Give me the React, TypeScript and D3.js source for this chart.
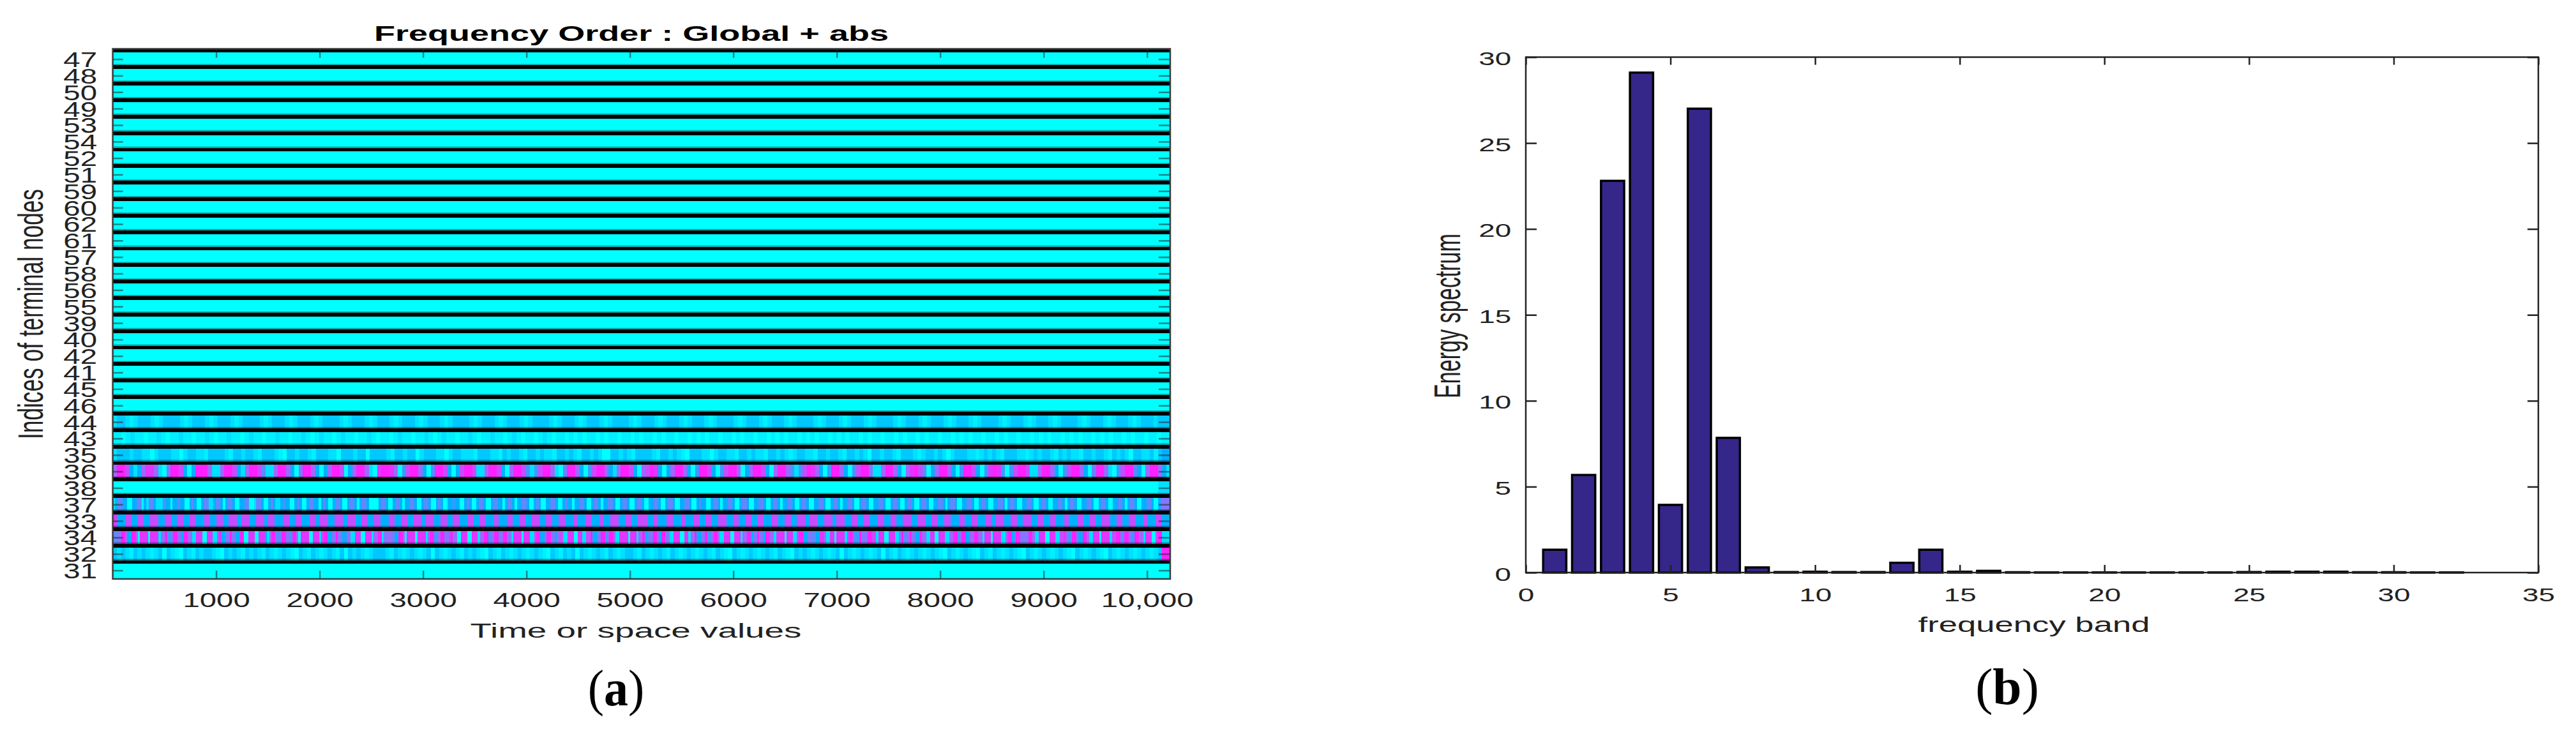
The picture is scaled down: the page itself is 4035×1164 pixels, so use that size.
import React, { useEffect, useRef } from 'react';
import * as d3 from 'd3';

// left panel: node order top to bottom
const nodeLabels = ['47', '48', '50', '49', '53', '54', '52', '51', '59', '60', '62', '61', '57', '58', '56', '55',
  '39', '40', '42', '41', '45', '46', '44', '43', '35', '36', '38', '37', '33', '34', '32', '31'];
const timeTicks = [1000, 2000, 3000, 4000, 5000, 6000, 7000, 8000, 9000, 10000];

// colour levels read along each row, one character per cell (a = 0.5, b = 1.5)
const row44 = `
  1bb1a1b bb1a1b bbb1a1b bb1a1b bb1a1b bbb1a1b bb1a1b bb1a1b bbb1a1b bb1a1
  bbb1a1b bb1a1b bb1a1b bbb1a1b bb1a1b bb1a1b bbb1a1b bb1a1b bb1a1b bbb1a1
  bbb1a1b bb1a1b bb1a1b bbb1a1b bb1a1b bb1a1b bbb1a1b bb1a1b bb1a1b bbb1a1
  bbb1a1b bb1a1b bb1a1b bbb1a1b bb1a1b bb1a1b bbb1a1b bb1a1b bb1a1b bb1bbb`;
const row43 = `
  aa0a1aa 0aa1a0 aa1aa0a a1a0aa 1aa0a1 aa0aa1a a0aa1a 0a1aa0 a1aa0a a1a0
  aa0a1aa 0aa1a0 a1aa0a a1a0aa 1aa0a1 a0aa0a1 a0aa0a 0a0aa0 a0aa0a a0a0
  aa0a0aa 0aa0a0 a0aa0a a0a0aa 0aa0a0 a0aa0a0 a0aa0a 0a0aa0 a0aa0a a0a0
  aa0a0aa 0aa0a0 a0aa0a a0a0aa 0aa0a0 a0aa0a0 a0aa0a 0a0aa0 a0aa0a a0aa`;
const row35 = `
  1bbb1bb1101bbb1101bb11abbbb1abb1bb1abbb1a0bb1bb1abbb110bbb1bb0bb
  bb1abb1bb01bbb1101bb111abbb11ab1bb1abb1b11abb1b1abb1b100bb1b1abb
  bb1abb1b1a0bbb1101bb11abb1b11abb1b1a1bb11abb1bb1abb1b10bb1bb1abb
  b1a1bb1b101bbb11a1b1b1abbb11a1b1bb1ab1b11abb1bb1ab1b10bb11bab22`;
const row36 = `
  6997212688610599720299961169972169974116996205996202699702699610
  8998603799620399720279971169972069973137996104996203799621699720
  6798202699620399720379960269972069963137986203996203799511699620
  6897402699620399720389830379971169962037996204996103799420699621`;
const row38 = `${'0'.repeat(253)}111`;
const row37 = `
  1 2 44 22 00 22 44 0 2 1 44 2 11 1 3 22 0 22 4 22 00 2 4 2 00 2 44 1 1 2 44 2 0 2 44 2 00 22 44 00 1 44 2 00 2 4 2 11 2 4 22 00 2 4 2 00 2 44 22 0 2 4 2 00 2 44 2 00 2 44 2 0 2 44 2 00
  00 2 44 2 00 2 44 2 0 22 44 2 00 2 44 2 00 2 4 2 00 22 4 22 00 2 4 2 00 2 44 2 00 2 44 22 0 2 44 2 0 22 44 2 00 2 4 2 00 22 44 2 00 2 4 22 0 22 44 2 00 2 44 2 0 22 44 2 00 2 44 2 00 2 44
  2 00 22 44 2 00 2 44 2 00 22 44 2 00 2 4 22 00 2 44 2 0 22 44 2 00 2 44 2 00 22 44 2 00 2 44 2 0 22 44 2 00 2 44 2 00 22 44 2 00 2 44 2 0 22 44 2 00 2 44 2 00 22 44 2 00 2 44 2 00 2 44
  2 00 2 44 2 00 22 44 2 0 2 44 2 00 22 44 2 00 2 44 2 00 22 44 2 0 2 44 2 00 22 44 2 00 2 44 2 00 22 44 2 0 2 44 2 00 22 44 2 00 2 44 2 00 22 44 2 0 2 44 2 00 22 44 2 00 2 5555`;
const row33 = `
  88 2222 777 222 777 222 7777 222 777 222 777 222 777 2222 777 222 777 222 7777 22 7777 222 7777 22 777 2222 777 222 777 2222 777 22 7777 222 7777 22 7777 222 777 222 7
  77 2222 777 222 777 222 7777 22 7777 222 777 222 777 2222 777 222 777 2222 77 2222 777 222 777 222 7777 222 777 222 777 2222 77 2222 777 2222 77 222 7777 222 777 222 77
  777 222 77 2222 777 2222 77 2222 777 222 777 222 7777 222 777 222 777 222 777 2222 777 222 777 222 7777 22 7777 222 7777 22 7777 222 777 222 777 2222 777 222 777 222 77
  77 222 7777 222 777 222 777 2222 777 222 777 2222 777 22 7777 222 777 222 7777 222 777 222 777 2222 77 2222 777 222 777 222 7777 222 777 222 777 2222 77 2222 777 2222`;
const row34 = `
  44 55 99 6 22 99 6 0 8888 0 8888 1 55 9 33 5 99 55 2 99 66 11 888 00 888 11 7 9 22 55 9 55 22 99 00 888 00 888 2 1 6 99 444 99 55 3 99 6 0 8888 00 888 1 7 99 22 55 9 55 22 66 11 888 00 888 1 66 9
  9 1 55 66 5 22 99 6 0 8888 0 8888 1 6 99 33 6 99 55 7 9 66 00 888 00 888 1 66 99 2 55 99 3 6 99 55 1 8888 0 888 11 7 99 22 5 99 55 2 6 77 11 888 00 88 11 77 9 22 55 99 3 6 99 6 11 8888 0 888 1 66 9
  2 3 55 99 5 2 99 55 11 888 00 88 1 66 9 22 55 9 33 6 99 6 11 888 00 888 1 66 99 2 55 9 55 2 99 66 1 8888 0 888 11 7 99 22 55 44 22 88 6 11 88 0 8888 1 7 99 333 9 555 99 77 1 888 00 888 11 5 9
  4 4 6 9 55 22 9 66 11 88 00 888 11 66 99 3 5 99 22 66 99 66 1 888 0 8888 11 6 99 2 3 99 55 55 99 6 11 888 00 888 11 77 8 6 33 99 5 22 99 6 11 888 0 8888 1 77 99 5 3 99 55 2 99 66 1 888 00 7 99 1111`;
const row32 = `
  b1b1ab1b1a1b0b1a0b1ab1bb1a0b1b1ab1b1ab1a1b1a0b1ab1a1b1ab0b1b1a1b
  bb1ab1a1b1a1b0b1a1b1ab1b1a0b1ab1a1b1a1b1a0b1ab1b0b1a1b1ab1a1bb1a
  b1a1b1ab1a1b1a1b1ab1a0b1a1b1a1b1ab1a0b1b1a1b1a1b0b1a1b1a1b0b1ab1
  a1b1a1b1a0b1a1b1a0b1ab1a1b1a0b1a1b1a1b1a0b1a1b1a0b1a1b1a1b1a1b99`;

const stripedRows: Record<string, string> = {
  '44': row44, '43': row43, '35': row35, '36': row36, '38': row38,
  '37': row37, '33': row33, '34': row34, '32': row32,
};

// right panel: energy per frequency band
const bands = d3.range(1, 35);
const energy = [1.33, 5.68, 22.8, 29.1, 3.94, 27.0, 7.84, 0.3, 0.03, 0.05, 0.03, 0.03, 0.57, 1.33, 0.05, 0.1, 0.02,
  0.01, 0.01, 0.01, 0.01, 0.01, 0.01, 0.01, 0.03, 0.05, 0.05, 0.05, 0.02, 0.02, 0.01, 0.01, 0, 0];
const bandTicks = [0, 5, 10, 15, 20, 25, 30, 35];
const energyTicks = [0, 5, 10, 15, 20, 25, 30];

const levelColor = d3.scaleLinear<string>()
  .domain([0, 1, 2, 3, 4, 5, 6, 7, 8, 9])
  .range(['#00ffff', '#00e0ff', '#00b0ff', '#4098ff', '#6088ff', '#8078ff', '#a068ff', '#c84cff', '#e036ff', '#ff20ff']);

const halfLevels: Record<string, number> = { a: 0.5, b: 1.5 };
const parseLevels = (s: string) => s.replace(/\s/g, '').split('').map((c) => halfLevels[c] ?? +c);

const sans = "'Liberation Sans', Arial, sans-serif";
const ink = '#222';

function styleAxis(g: any, size: number, stretch: number, textAttrs: (t: any) => void) {
  g.select('.domain').remove();
  g.selectAll('.tick line').attr('stroke', ink).attr('stroke-width', 2.5);
  const t = g.selectAll('.tick text')
    .attr('font-family', sans).attr('font-size', size).attr('fill', ink)
    .attr('transform', `scale(${stretch},1)`);
  textAttrs(t);
}

function label(svg: any, text: string, x: number, y: number, length: number, size: number, rotate = false, stretch = 1.5) {
  svg.append('text')
    .attr('transform', rotate ? `translate(${x},${y}) rotate(-90) scale(1,${stretch})` : `translate(${x},${y}) scale(1,1)`)
    .attr('text-anchor', 'middle')
    .attr('font-family', sans).attr('font-size', size).attr('fill', ink)
    .attr('textLength', length).attr('lengthAdjust', 'spacingAndGlyphs')
    .text(text);
}

function panelCaption(svg: any, letter: string, x: number, y: number, scaleX: number) {
  const t = svg.append('text')
    .attr('transform', `translate(${x},${y}) scale(${scaleX},1)`)
    .attr('text-anchor', 'middle')
    .attr('font-family', "'Liberation Serif', 'Times New Roman', serif").attr('font-size', 80).attr('fill', '#000');
  t.append('tspan').text('(');
  t.append('tspan').attr('font-weight', 'bold').text(letter);
  t.append('tspan').text(')');
}

function drawNodes(svg: any) {
  const left = 176.6, right = 1833, top = 76.5, bottom = 907;
  const x = d3.scaleLinear().domain([0, 10224]).range([left, right]);
  const y = d3.scalePoint<string>().domain(nodeLabels).range([92.6, 893.6]);
  const g = svg.append('g');

  g.append('rect').attr('x', left).attr('y', top).attr('width', right - left).attr('height', bottom - top).attr('fill', '#000');

  nodeLabels.forEach((name) => {
    const cy = y(name) as number;
    const y0 = cy - 10.2;
    const y1 = name === '31' ? bottom : cy + 9.8;
    const levels = parseLevels(stripedRows[name] ?? '0');
    const step = 10224 / levels.length;
    g.append('g').attr('shape-rendering', 'crispEdges').selectAll('rect')
      .data(levels)
      .join('rect')
      .attr('x', (_: number, i: number) => x(i * step))
      .attr('y', y0)
      .attr('width', x(step) - x(0) + 0.6)
      .attr('height', y1 - y0)
      .attr('fill', (d: number) => levelColor(d));
    // dark rim under each row, the bars of the plot bleed into it
    if (name !== '31') {
      g.append('rect').attr('x', left).attr('y', y1 - 2).attr('width', right - left).attr('height', 2)
        .attr('fill', '#000').attr('opacity', 0.4);
    }
  });

  const tickFmt = (v: any) => (v === 10000 ? '10,000' : String(v));
  const bottomAxis = svg.append('g').attr('transform', `translate(0,${bottom})`)
    .call(d3.axisBottom(x).tickValues(timeTicks).tickSize(-13).tickFormat(tickFmt));
  styleAxis(bottomAxis, 32, 1.48, (t) => t.attr('y', 44.5).attr('dy', 0));
  const topAxis = svg.append('g').attr('transform', `translate(0,${top})`)
    .call(d3.axisTop(x).tickValues(timeTicks).tickSize(-14).tickFormat(() => ''));
  styleAxis(topAxis, 31, 1, () => {});
  const leftAxis = svg.append('g').attr('transform', `translate(${left},0)`)
    .call(d3.axisLeft(y).tickSize(-16));
  styleAxis(leftAxis, 33, 1.44, (t) => t.attr('x', -17).attr('dy', 12));
  const rightAxis = svg.append('g').attr('transform', `translate(${right},0)`)
    .call(d3.axisRight(y).tickSize(-18).tickFormat(() => ''));
  styleAxis(rightAxis, 31, 1, () => {});
  svg.selectAll('g .tick line').attr('stroke-opacity', 0.55);

  g.append('rect').attr('x', left).attr('y', top).attr('width', right - left).attr('height', 5).attr('fill', '#000');
  svg.append('rect').attr('x', left).attr('y', top).attr('width', right - left).attr('height', bottom - top)
    .attr('fill', 'none').attr('stroke', '#3a3a3a').attr('stroke-width', 2.5);

  svg.append('text').attr('x', 989).attr('y', 64).attr('text-anchor', 'middle')
    .attr('font-family', sans).attr('font-weight', 'bold').attr('font-size', 33).attr('fill', '#000')
    .attr('textLength', 806).attr('lengthAdjust', 'spacingAndGlyphs')
    .text('Frequency Order : Global + abs');
  label(svg, 'Time or space values', 996, 999, 519, 31);
  label(svg, 'Indices of terminal nodes', 67, 492, 392, 37, true, 1.5);
  panelCaption(svg, 'a', 965, 1105, 0.95);
}

function drawSpectrum(svg: any) {
  const x = d3.scaleLinear().domain([0, 35]).range([2390, 3976]);
  const y = d3.scaleLinear().domain([0, 30]).range([897, 89.5]);
  const barW = x(0.8) - x(0);

  svg.append('g').selectAll('rect')
    .data(bands)
    .join('rect')
    .attr('x', (d: number) => x(d) - barW / 2)
    .attr('y', (_: number, i: number) => y(energy[i]))
    .attr('width', barW)
    .attr('height', (_: number, i: number) => y(0) - y(energy[i]))
    .attr('fill', '#35268a')
    .attr('stroke', '#000')
    .attr('stroke-width', 3.5);

  const bottomAxis = svg.append('g').attr('transform', `translate(0,${y(0)})`)
    .call(d3.axisBottom(x).tickValues(bandTicks).tickSize(-12));
  styleAxis(bottomAxis, 29, 1.58, (t) => t.attr('y', 45).attr('dy', 0));
  const topAxis = svg.append('g').attr('transform', `translate(0,${y(30)})`)
    .call(d3.axisTop(x).tickValues(bandTicks).tickSize(-12).tickFormat(() => ''));
  styleAxis(topAxis, 29, 1, () => {});
  const leftAxis = svg.append('g').attr('transform', `translate(${x(0)},0)`)
    .call(d3.axisLeft(y).tickValues(energyTicks).tickSize(-17));
  styleAxis(leftAxis, 29, 1.58, (t) => t.attr('x', -14.5).attr('dy', 12));
  const rightAxis = svg.append('g').attr('transform', `translate(${x(35)},0)`)
    .call(d3.axisRight(y).tickValues(energyTicks).tickSize(-17).tickFormat(() => ''));
  styleAxis(rightAxis, 29, 1, () => {});

  svg.append('rect').attr('x', x(0)).attr('y', y(30)).attr('width', x(35) - x(0)).attr('height', y(0) - y(30))
    .attr('fill', 'none').attr('stroke', ink).attr('stroke-width', 2.5);

  label(svg, 'frequency band', 3186, 990, 363, 33);
  label(svg, 'Energy spectrum', 2287, 495, 258, 34, true, 1.7);
  panelCaption(svg, 'b', 3144, 1103, 1.02);
}

export default function App() {
  const ref = useRef<SVGSVGElement>(null);

  useEffect(() => {
    const svg = d3.select(ref.current);
    svg.selectAll('*').remove();
    drawNodes(svg);
    drawSpectrum(svg);
  }, []);

  return (
    <svg ref={ref} width={4035} height={1164}
      style={{ position: 'absolute', left: 0, top: 0, background: '#fff' }} />
  );
}
